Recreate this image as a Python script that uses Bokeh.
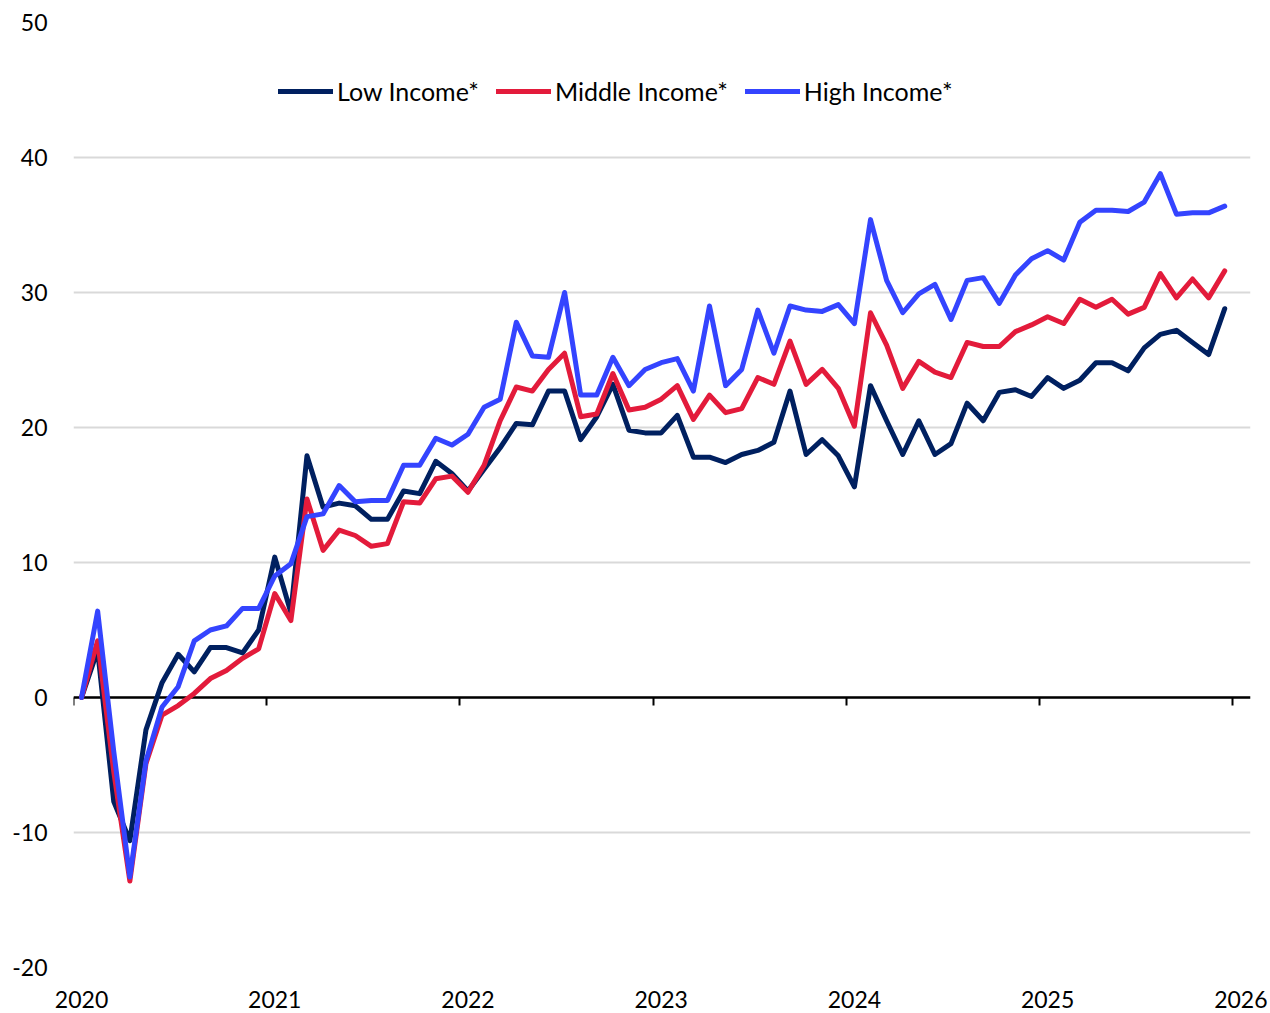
from bokeh.plotting import figure
from bokeh.models import (LinearAxis, FixedTicker, Span, Legend, LegendItem, Range1d)
from bokeh.embed import file_html
from bokeh.resources import INLINE

# ---- data (monthly index, Jan 2020 = 0) ----
year_labels = ["2020", "2021", "2022", "2023", "2024", "2025", "2026"]
y_ticks = [-20, -10, 0, 10, 20, 30, 40, 50]

low_income = [0, 3.5, -7.7, -10.6, -2.4, 1.1, 3.2, 1.9, 3.7, 3.7, 3.3, 5.0,
              10.4, 6.3, 17.9, 14.1, 14.4, 14.2, 13.2, 13.2, 15.3, 15.1, 17.5, 16.6,
              15.3, 16.9, 18.5, 20.3, 20.2, 22.7, 22.7, 19.1, 20.8, 23.2, 19.8, 19.6,
              19.6, 20.9, 17.8, 17.8, 17.4, 18.0, 18.3, 18.9, 22.7, 18.0, 19.1, 17.9,
              15.6, 23.1, 20.5, 18.0, 20.5, 18.0, 18.8, 21.8, 20.5, 22.6, 22.8, 22.3,
              23.7, 22.9, 23.5, 24.8, 24.8, 24.2, 25.9, 26.9, 27.2, 26.3, 25.4, 28.8]

middle_income = [0, 4.2, -5.5, -13.6, -4.9, -1.3, -0.6, 0.3, 1.4, 2.0, 2.9, 3.6,
                 7.7, 5.7, 14.7, 10.9, 12.4, 12.0, 11.2, 11.4, 14.5, 14.4, 16.2, 16.4,
                 15.2, 17.2, 20.5, 23.0, 22.7, 24.3, 25.5, 20.8, 21.0, 24.0, 21.3, 21.5,
                 22.1, 23.1, 20.6, 22.4, 21.1, 21.4, 23.7, 23.2, 26.4, 23.2, 24.3, 22.9,
                 20.1, 28.5, 26.1, 22.9, 24.9, 24.1, 23.7, 26.3, 26.0, 26.0, 27.1, 27.6,
                 28.2, 27.7, 29.5, 28.9, 29.5, 28.4, 28.9, 31.4, 29.6, 31.0, 29.6, 31.6]

high_income = [0, 6.4, -4.0, -13.3, -4.7, -0.7, 0.8, 4.2, 5.0, 5.3, 6.6, 6.6,
               9.0, 9.9, 13.4, 13.6, 15.7, 14.5, 14.6, 14.6, 17.2, 17.2, 19.2, 18.7,
               19.5, 21.5, 22.1, 27.8, 25.3, 25.2, 30.0, 22.4, 22.4, 25.2, 23.1, 24.3,
               24.8, 25.1, 22.7, 29.0, 23.1, 24.3, 28.7, 25.5, 29.0, 28.7, 28.6, 29.1,
               27.7, 35.4, 30.9, 28.5, 29.9, 30.6, 28.0, 30.9, 31.1, 29.2, 31.3, 32.5,
               33.1, 32.4, 35.2, 36.1, 36.1, 36.0, 36.7, 38.8, 35.8, 35.9, 35.9, 36.4]

series_names = ["Low Income*", "Middle Income*", "High Income*"]
colors = ["#002060", "#E31B3B", "#3444FF"]

months = list(range(len(low_income)))
year_pos = [12 * i for i in range(len(year_labels))]
boundaries = [12 * i - 0.5 for i in range(len(year_labels))]

FONT = "Lato"
FS = "23px"

p = figure(width=1270, height=1013, output_backend="svg", toolbar_location=None,
           x_range=Range1d(-0.5, 72.6), y_range=Range1d(-20, 50),
           min_border_left=73, min_border_right=20, min_border_top=22,
           min_border_bottom=46)
p.outline_line_color = None
p.background_fill_color = "white"
p.xgrid.visible = False
p.ygrid.grid_line_color = "#D9D9D9"
p.ygrid.grid_line_width = 2

# y axis
p.yaxis.ticker = FixedTicker(ticks=y_ticks)
p.yaxis.major_label_overrides = {t: str(t) for t in y_ticks}
p.yaxis.axis_line_color = None
p.yaxis.major_tick_line_color = None
p.yaxis.minor_tick_line_color = None
p.yaxis.major_tick_out = 0
p.yaxis.major_tick_in = 0
p.yaxis.major_label_standoff = 26
p.yaxis.major_label_text_font = FONT
p.yaxis.major_label_text_font_size = FS
p.yaxis.major_label_text_color = "black"

# x axis (labels at bottom)
p.xaxis.ticker = FixedTicker(ticks=year_pos)
p.xaxis.major_label_overrides = {pos: lab for pos, lab in zip(year_pos, year_labels)}
p.xaxis.axis_line_color = None
p.xaxis.major_tick_line_color = None
p.xaxis.minor_tick_line_color = None
p.xaxis.major_tick_out = 0
p.xaxis.major_tick_in = 0
p.xaxis.major_label_standoff = 23
p.xaxis.major_label_text_font = FONT
p.xaxis.major_label_text_font_size = FS
p.xaxis.major_label_text_color = "black"

# zero line
zero = Span(location=0, dimension="width", line_color="black", line_width=2.5, level="underlay")
p.add_layout(zero)

# tick marks on the zero line at year boundaries
tick_axis = LinearAxis(fixed_location=0, ticker=FixedTicker(ticks=boundaries),
                       major_tick_in=8, major_tick_out=0,
                       major_tick_line_color="black", major_tick_line_width=2,
                       minor_tick_line_color=None, axis_line_color=None,
                       major_label_standoff=0, major_label_text_font_size="0px",
                       major_label_overrides={b: "" for b in boundaries})
p.add_layout(tick_axis, "above")

renderers = []
for vals, col in zip([low_income, middle_income, high_income], colors):
    r = p.line(months, vals, line_color=col, line_width=5, line_join="round", line_cap="round")
    renderers.append(r)

legend = Legend(items=[LegendItem(label=n, renderers=[r]) for n, r in zip(series_names, renderers)],
                orientation="horizontal", location=(205, 861),
                glyph_width=55, glyph_height=20, label_standoff=4, spacing=17,
                padding=0, margin=0, border_line_color=None, background_fill_alpha=0,
                label_text_font=FONT, label_text_font_size="25px", label_text_color="black")
p.add_layout(legend)

open("out.html", "w").write(file_html(p, INLINE))
